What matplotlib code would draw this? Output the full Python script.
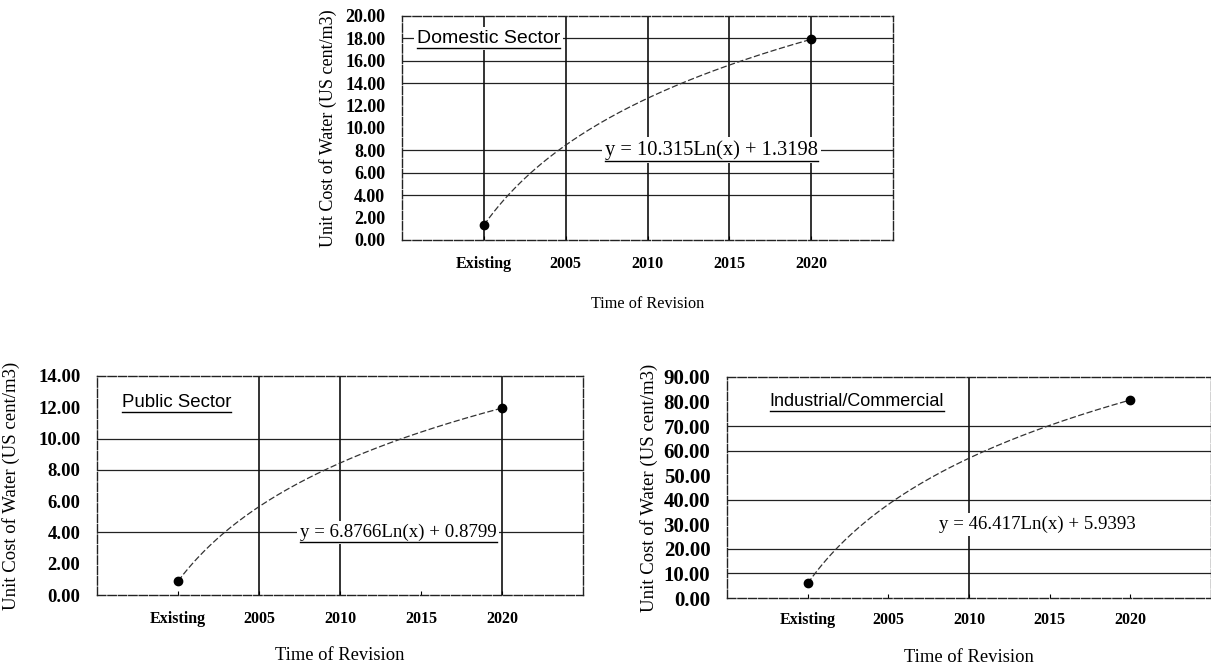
import numpy as np
import matplotlib
matplotlib.use("Agg")
import matplotlib.pyplot as plt
from matplotlib.lines import Line2D
from matplotlib.ticker import FormatStrFormatter

# ---- data ----
categories = ["Existing", "2005", "2010", "2015", "2020"]
cat_pos = [1, 2, 3, 4, 5]
point_idx = [1, 5]                      # positions of the measured points
domestic_vals = [1.32, 17.92]
public_vals = [0.88, 11.95]
industrial_vals = [5.94, 80.64]

titles = ["Domestic Sector", "Public Sector", "Industrial/Commercial"]
eq_texts = ["y = 10.315Ln(x) + 1.3198",
            "y = 6.8766Ln(x) + 0.8799",
            "y = 46.417Ln(x) + 5.9393"]
y_max = [20, 14, 90]
y_step = [2, 2, 10]
hgrid = [[4, 6, 8, 14, 16, 18], [4, 8, 10], [10, 20, 40, 60, 70]]
vgrid = [[1, 2, 3, 4, 5], [2, 3, 5], [3]]
title_pos = [(0.18, 18), (0.31, 12.3), (0.53, 80)]
eq_pos = [(3.78, 8), (3.72, 4), (3.85, 30)]
eq_underline = [True, True, False]
values = [domestic_vals, public_vals, industrial_vals]

# ---- layout ----
W, H = 1211, 669
boxes_px = [(402, 16, 893, 240), (97, 376, 583, 595), (727, 377, 1211, 598)]
xpads = [11.5, 11.5, 10]
ytick_fs = [13, 13.5, 15]
ylabel_fs = [13, 13.5, 13.5]
xlabel_fs = [11.7, 13.3, 13.4]
eq_fs = [14.8, 13.6, 13.6]
title_fs = [14, 13.4, 13]
ylabel_x = [-0.132, -0.158, -0.1426]
xlabel_y = [-0.25, -0.237, -0.231]

fig = plt.figure(figsize=(W / 100, H / 100), dpi=100)
serif = ["Liberation Serif", "DejaVu Serif"]
sans = ["Liberation Sans", "DejaVu Sans"]

underline_texts = []
for i in range(3):
    l, t, r, b = boxes_px[i]
    ax = fig.add_axes([l / W, 1 - b / H, (r - l) / W, (b - t) / H])
    ax.set_xlim(0, 6)
    ax.set_ylim(0, y_max[i])
    ax.set_yticks(np.arange(0, y_max[i] + 0.1, y_step[i]))
    ax.yaxis.set_major_formatter(FormatStrFormatter("%.2f"))
    ax.set_xticks(cat_pos)
    ax.set_xticklabels(categories)
    for yv in hgrid[i]:
        ax.axhline(yv, color="#222222", lw=0.9, zorder=1)
    for xv in vgrid[i]:
        ax.axvline(xv, color="#111111", lw=1.2, zorder=1)
    for sp in ax.spines.values():
        sp.set_linewidth(1.0)
        sp.set_linestyle((0, (6, 1.5)))
        sp.set_color("#222222")
    ax.tick_params(axis="y", labelsize=ytick_fs[i], length=0, pad=12)
    ax.tick_params(axis="x", labelsize=11.5, length=3, direction="in", pad=xpads[i])
    for lab in ax.get_yticklabels() + ax.get_xticklabels():
        lab.set_family(serif)
        lab.set_fontweight("bold")
    ax.set_ylabel("Unit Cost of Water (US cent/m3)", family=serif, fontsize=ylabel_fs[i])
    ax.yaxis.set_label_coords(ylabel_x[i], 0.5)
    ax.set_xlabel("Time of Revision", family=serif, fontsize=xlabel_fs[i])
    ax.xaxis.set_label_coords(0.5, xlabel_y[i])

    # logarithmic trendline fitted to the two points
    vals = values[i]
    a, c = np.polyfit(np.log(point_idx), vals, 1)
    xs = np.linspace(point_idx[0], point_idx[1], 200)
    ax.plot(xs, a * np.log(xs) + c, color="#333333", lw=0.9, ls=(0, (5, 2)), zorder=3)
    ax.plot(point_idx, vals, "o", color="black", ms=6, zorder=4)

    tt = ax.text(title_pos[i][0], title_pos[i][1], titles[i], family=sans, fontsize=title_fs[i],
                 ha="left", va="center", zorder=5,
                 bbox=dict(boxstyle="square,pad=0.15", fc="white", ec="none"))
    underline_texts.append(tt)
    et = ax.text(eq_pos[i][0], eq_pos[i][1], eq_texts[i], family=serif, fontsize=eq_fs[i],
                 ha="center", va="center", zorder=5,
                 bbox=dict(boxstyle="square,pad=0.15", fc="white", ec="none"))
    if eq_underline[i]:
        underline_texts.append(et)

fig.canvas.draw()
inv = fig.transFigure.inverted()
for t in underline_texts:
    bb = t.get_window_extent()
    (x0, y0), (x1, y1) = inv.transform([(bb.x0, bb.y0 - 1), (bb.x1, bb.y0 - 1)])
    fig.add_artist(Line2D([x0, x1], [y0, y1], transform=fig.transFigure,
                          color="black", lw=1.0, zorder=6))

fig.savefig("out.png", dpi=100)
